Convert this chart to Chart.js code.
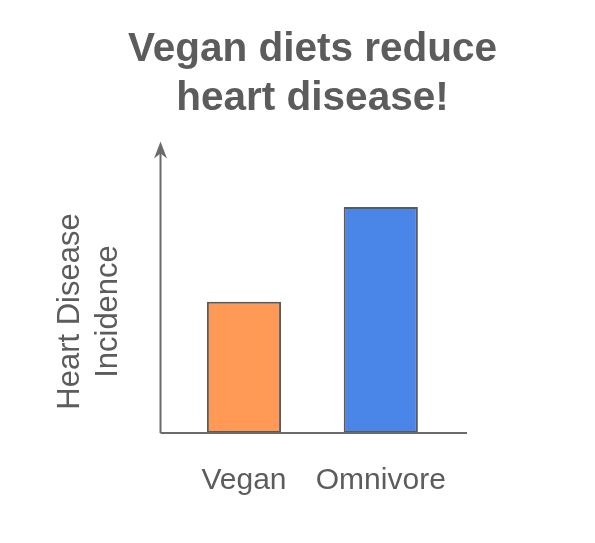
<!DOCTYPE html>
<html>
<head>
<meta charset="utf-8">
<script src="https://cdn.jsdelivr.net/npm/chart.js@4"></script>
<style>
  html, body { margin: 0; padding: 0; background: #ffffff; }
  #wrap { width: 595px; height: 543px; position: relative; }
</style>
</head>
<body>
<div id="wrap"><canvas id="c"></canvas></div>
<script>
// ---- data ----
const categories = ['Vegan', 'Omnivore'];
const incidence = [54, 93];
const barColors = ['#FF9955', '#4A86E8'];
const titleLines = ['Vegan diets reduce', 'heart disease!'];
const yTitleLines = ['Heart Disease', 'Incidence'];
const yMax = 100;
const arrowTipValue = 120;

const FONT = "'Liberation Sans', Arial, Helvetica, sans-serif";
const AXIS_COLOR = '#6b6b6b';
const TEXT_COLOR = '#5c5c5c';

const axisPlugin = {
  id: 'axisArrows',
  afterDatasetsDraw(chart) {
    const { ctx, chartArea, scales } = chart;
    const x0 = chartArea.left, x1 = chartArea.right, yb = chartArea.bottom;
    const tipY = scales.y.getPixelForValue(arrowTipValue);
    ctx.save();
    ctx.strokeStyle = AXIS_COLOR;
    ctx.fillStyle = AXIS_COLOR;
    ctx.lineWidth = 2;
    ctx.beginPath();
    ctx.moveTo(x0, yb);
    ctx.lineTo(x1, yb);
    ctx.moveTo(x0, yb);
    ctx.lineTo(x0, tipY + 6);
    ctx.stroke();
    ctx.beginPath();
    ctx.moveTo(x0, tipY);
    ctx.lineTo(x0 - 6.5, tipY + 17);
    ctx.lineTo(x0, tipY + 12);
    ctx.lineTo(x0 + 6.5, tipY + 17);
    ctx.closePath();
    ctx.fill();
    ctx.restore();
  }
};

new Chart(document.getElementById('c'), {
  type: 'bar',
  data: {
    datasets: [{
      data: incidence.map((v, i) => ({ x: i, y: v })),
      backgroundColor: barColors,
      borderColor: '#5a5a5a',
      borderWidth: 2,
      borderSkipped: false,
      categoryPercentage: 1,
      barPercentage: 0.542
    }]
  },
  options: {
    responsive: true,
    maintainAspectRatio: false,
    animation: false,
    devicePixelRatio: 1,
    layout: { padding: { left: 30, right: 0, top: 0, bottom: 14 } },
    plugins: {
      legend: { display: false },
      tooltip: { enabled: false },
      title: {
        display: true,
        text: titleLines,
        color: TEXT_COLOR,
        font: { family: FONT, size: 40.5, weight: 'bold', lineHeight: 1.21 },
        padding: { top: 25, bottom: 67 }
      }
    },
    scales: {
      x: {
        type: 'linear',
        offset: false,
        bounds: 'data',
        min: -0.61,
        max: 1.63,
        grid: { display: false, drawTicks: false, offset: false },
        border: { display: false },
        afterBuildTicks(scale) {
          scale.ticks = categories.map((c, i) => ({ value: i }));
        },
        ticks: {
          autoSkip: false,
          maxRotation: 0,
          padding: 30,
          color: TEXT_COLOR,
          font: { family: FONT, size: 30, lineHeight: 1.2 },
          callback: (v) => categories[v] !== undefined ? categories[v] : ''
        }
      },
      y: {
        min: 0,
        max: yMax,
        grid: { display: false, drawTicks: false },
        border: { display: false },
        ticks: { display: false },
        title: {
          display: true,
          text: yTitleLines,
          color: TEXT_COLOR,
          font: { family: FONT, size: 31, lineHeight: 1.226 },
          padding: { top: 21.5, bottom: 33 }
        }
      },
      spacer: {
        type: 'linear',
        position: 'right',
        display: true,
        grid: { display: false, drawTicks: false },
        border: { display: false },
        ticks: { display: false },
        afterFit(scale) { scale.width = 128; }
      }
    }
  },
  plugins: [axisPlugin]
});
</script>
</body>
</html>
